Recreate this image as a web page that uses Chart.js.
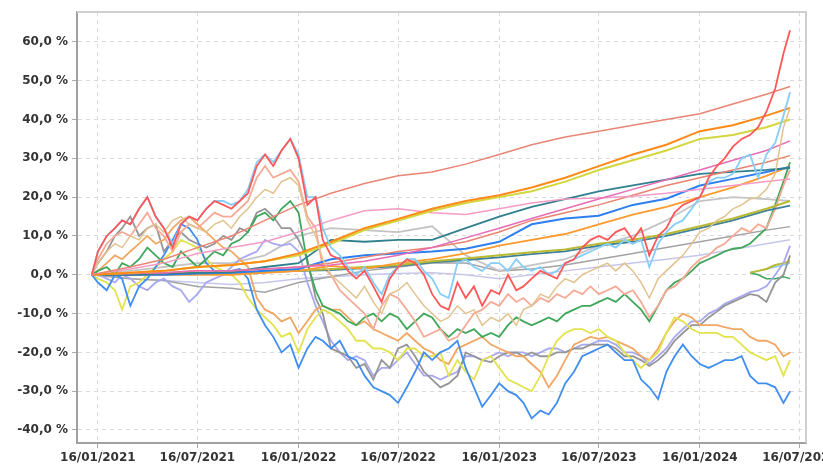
<!DOCTYPE html>
<html>
<head>
<meta charset="utf-8">
<script src="https://cdn.jsdelivr.net/npm/chart.js@4.4.1/dist/chart.umd.min.js"></script>
<style>
  html, body { margin: 0; padding: 0; background: #fff; overflow: hidden; }
  #wrap { position: relative; width: 860px; height: 471px; }
</style>
</head>
<body>
<div id="wrap"><canvas id="perfChart"></canvas></div>
<script>
// half-monthly dates for the volatile series
const dates = [
  "2021-01-05","2021-01-16","2021-02-01","2021-02-16","2021-03-01","2021-03-16","2021-04-01","2021-04-16","2021-05-01","2021-05-16",
  "2021-06-01","2021-06-16","2021-07-01","2021-07-16","2021-08-01","2021-08-16","2021-09-01","2021-09-16","2021-10-01","2021-10-16",
  "2021-11-01","2021-11-16","2021-12-01","2021-12-16","2022-01-01","2022-01-16","2022-02-01","2022-02-16","2022-03-01","2022-03-16",
  "2022-04-01","2022-04-16","2022-05-01","2022-05-16","2022-06-01","2022-06-16","2022-07-01","2022-07-16","2022-08-01","2022-08-16",
  "2022-09-01","2022-09-16","2022-10-01","2022-10-16","2022-11-01","2022-11-16","2022-12-01","2022-12-16","2023-01-01","2023-01-16",
  "2023-02-01","2023-02-16","2023-03-01","2023-03-16","2023-04-01","2023-04-16","2023-05-01","2023-05-16","2023-06-01","2023-06-16",
  "2023-07-01","2023-07-16","2023-08-01","2023-08-16","2023-09-01","2023-09-16","2023-10-01","2023-10-16","2023-11-01","2023-11-16",
  "2023-12-01","2023-12-16","2024-01-01","2024-01-16","2024-02-01","2024-02-16","2024-03-01","2024-03-16","2024-04-01","2024-04-16",
  "2024-05-01","2024-05-16","2024-06-01","2024-06-16","2024-06-28"
];
// two-monthly dates for the smooth series
const sparseDates = [
  "2021-01-05","2021-03-16","2021-05-16","2021-07-16","2021-09-16","2021-11-16","2022-01-16","2022-03-16","2022-05-16","2022-07-16","2022-09-16",
  "2022-11-16","2023-01-16","2023-03-16","2023-05-16","2023-07-16","2023-09-16","2023-11-16","2024-01-16","2024-03-16","2024-05-16","2024-06-28"
];
const shortDates = ["2024-04-16","2024-05-01","2024-05-16","2024-06-01","2024-06-16","2024-06-28"];

const xTickDates = ["2021-01-16","2021-07-16","2022-01-16","2022-07-16","2023-01-16","2023-07-16","2024-01-16","2024-07-16"];
const xTickLabels = ["16/01/2021","16/07/2021","16/01/2022","16/07/2022","16/01/2023","16/07/2023","16/01/2024","16/07/2024"];
const yTicks = [-40, -30, -20, -10, 0, 10, 20, 30, 40, 50, 60];

// volatile series (% performance)
const redSeries = [0,6,10,12,14,13,17,20,15,12, 7,13,15,14,17,19,18,17,19,21, 28,31,28,32,35,30,18,20,9,5,
  4,1,-1,1,-3,-7,-1,2,4,3, 0,-5,-8,-9,-2,-6,-3,-8,-4,-5, 0,-4,-3,-1,1,0,-1,3,4,7,
  9,10,9,11,12,9,12,5,10,12, 16,18,19,20,25,28,30,33,35,36, 38,42,48,57,63];
const skySeries = [0,6,10,12,14,13,17,20,15,12, 8,13,15,14,17,19,19,18,19,22, 29,31,29,32,35,31,20,20,12,7,
  5,2,0,2,-2,-5,0,2,4,4, 1,-1,-5,-6,3,4,2,1,3,3, 1,4,2,1,2,0,1,3,4,5,
  6,7,8,7,9,8,9,2,8,11, 13,14,17,20,24,25,25,26,30,31, 25,31,34,41,47];
const wheatSeries = [0,3,6,8,7,10,9,12,13,11, 14,15,13,12,11,13,14,12,15,17, 20,22,21,24,25,23,14,10,4,0,
  -2,-4,-6,-3,-7,-10,-5,-4,-2,-5, -8,-10,-12,-11,-8,-10,-9,-13,-11,-12, -10,-13,-9,-8,-5,-6,-3,-1,-2,0,
  1,2,3,1,3,1,-2,-6,-1,1, 3,5,8,11,12,14,15,17,18,19.5, 20,22,26,38,43];
const peachSeries = [0,4,8,10,11,10,13,16,12,10, 6,11,13,12,14,16,15,15,17,19, 25,28,25,26,27,24,15,12,2,0,
  -4,-6,-8,-10,-14,-8,-5,-6,-9,-12, -16,-15,-14,-17,-16,-13,-10,-9,-7,-8, -5,-7,-6,-8,-6,-7,-5,-6,-4,-5,
  -3,-5,-4,-3,-5,-4,-7,-11,-8,-4, -3,-1,2,4,5,7,8,10,12,11, 13,12,17,23,27];
const greenSeries = [0,1,2,0,3,2,4,7,5,3, 2,6,4,2,4,6,5,8,9,11, 15,16,14,17,19,16,3,-4,-8,-9,
  -10,-12,-13,-11,-10,-12,-10,-11,-14,-12, -10,-11,-14,-16,-14,-15,-14,-16,-15,-16, -13,-11,-12,-13,-12,-11,-12,-10,-9,-8,
  -8,-7,-6,-7,-5,-7,-9,-12,-8,-4, -2,-1,1,3,4,5,6,6.7,7,8, 10,12,18,24,29];
const blueSeries = [0,-2,-4,0,-1,-8,-3,-1,2,5, 9,13,12,9,3,1,0,1,1.5,-1, -9,-13,-16,-20,-18,-24,-19,-16,-17,-19,
  -17,-21,-22,-26,-29,-30,-31,-33,-29,-25, -20,-22,-20,-19,-17,-24,-29,-34,-31,-28, -30,-31,-33,-37,-35,-36,-33,-28,-25,-21,
  -20,-19,-18,-20,-22,-22,-27,-29,-32,-25, -21,-18,-21,-23,-24,-23,-22,-22,-21,-26, -28,-28,-29,-33,-30];
const yellowSeries = [0,-1,-2,-4,-9,-3,-2,0,2,4, 6,9,8,7,4,2,1,0,-2,-6, -9,-11,-13,-16,-15,-20,-14,-11,-9,-10,
  -12,-14,-17,-17,-19,-19,-20,-22,-19,-19, -21,-21,-20,-26,-22,-25,-27,-22,-21,-24, -27,-28,-29,-30,-26,-21,-17,-15,-14,-14,
  -15,-14,-16,-17,-20,-22,-24,-22,-20,-15, -11,-12,-14,-15,-15,-15,-16,-16,-18,-20, -21,-22,-21,-26,-22];
const sandySeries = [0,1,3,5,4,6,8,10,8,9, 12,14,15,13,11,9,7,6,4,2, -6,-9,-10,-12,-11,-15,-12,-9,-8,-9,
  -9,-11,-13,-12,-14,-15,-16,-17,-15,-17, -19,-20,-22,-23,-19,-18,-17,-16,-18,-19, -20,-21,-21,-23,-25,-29,-26,-22,-18,-17,
  -16,-16.5,-16,-17,-18,-19,-21,-22,-19,-15, -12,-10,-11,-13,-13,-13,-13.5,-14,-14,-16, -17,-17,-18,-21,-20];
const graySeries = [0,3,6,10,12,15,10,12,13,6, 9,11,9,8,7,8,10,9,12,11, 16,17,15,12,12,9,4,-6,-10,-19,
  -20,-21,-24,-23,-27,-22,-24,-19,-18,-21, -25,-27,-29,-28,-26,-20,-21,-22,-22.5,-21, -20,-20,-21,-20,-21,-21,-20,-20,-19,-19,
  -18,-18,-18,-19,-21,-21,-22,-23.5,-22,-20, -17,-15,-13,-13,-11,-9.5,-8,-7,-6,-5, -5.4,-7,-2,0,5];
const lavenderSeries = [0,0,-1,-2,0,-1,-3,-4,-2,-1, -3,-4,-7,-5,-2,-1,0,2,4,5, 6,9,8,7.5,8,6,-2,-8,-12,-17,
  -20,-22,-21,-22,-26,-24,-24,-22,-20,-23, -26,-26,-27,-26,-25,-21,-21,-22,-21,-20, -21,-20,-20,-21,-20,-19,-19,-20,-19,-18,
  -18,-17,-17,-18,-20,-20,-21,-23,-21,-19, -16,-14,-12,-12,-10,-9,-7.5,-6.5,-5.5,-4.5, -4,-3,0,3,7.5];

// smooth series (% performance, two-monthly)
const salmonTop   = [0,2,4,7,10,14,18,21,23.5,25.5,26.5,28.5,31,33.5,35.5,37,38.5,40,41.5,44,46.5,48.5];
const orangeTop   = [0,0.5,1,2,2.5,3.5,5.5,8.5,12,14.4,17,19,20.5,22.5,25,28,31,33.5,37,38.5,41,43];
const yellowTop   = [0,0.5,1,2,2.5,3.5,5,8,11.5,14,16.5,18.5,20,21.5,24,27,29.5,32,35,36,38,40];
const pinkRising  = [0,0.3,0.5,1,1,1.5,2,2.5,3.5,5,7,9.5,12,14.5,17,19.5,22,24.5,27,29.5,32,34.5];
const pinkFlat    = [0,1.5,3,5.5,7,8.5,11,14,16.5,17,16,15.5,17,18.5,19.5,19.8,20.2,21,22,23,24,24.7];
const salmonLow   = [0,0.3,0.5,1,1,1.5,2,3,4.5,6,7,8.5,11,14,16,18,20.5,23,25,27,29,30.7];
const tealLine    = [0,0,0.3,0.5,0.7,2,3,9,8.5,9,9,12,15,17.5,19.5,21.5,23,24.5,26,26.5,27,27.5];
const blueLine    = [0,0,0,0.3,0.5,1,1.5,4,5,5.5,6,6.7,8.5,13,14.5,15.2,18,19.6,23,24.7,26.5,27.8];
const orangeLow   = [0,0,0,0,0,0.5,1,2.3,1.5,3,4,5.5,7.5,9,10.5,13,15.5,17.5,20,22.5,25.5,28];
const oliveLine   = [0,0,0.3,0.5,0.5,0.8,1,1.5,2,2.5,3.5,4.2,5,5.8,6.5,8,9,10.5,12.5,14.5,17,19];
const tealLow     = [0,0,0.3,0.5,0.5,0.7,1,1.2,1.7,2.2,3.2,3.8,4.5,5.3,6,7.5,8.5,10,12,14,16.5,17.8];
const silverLine  = [0,1,2,3,3,5,10,12,11.5,11,12.5,5,1,2.5,4,7.5,10,14,19,20,19.5,19];
const grayLine    = [0,-1,-1.5,-3,-3.5,-4.5,-2,-0.5,1,2,3,3,1,1.5,2.5,4,5.5,7,8.5,10,11.5,12.4];
const lilacLine   = [0,-1,-1.5,-2,-2.5,-2,-1,-0.5,0,0.3,0.5,0,-1,0,1,2,3,4,5,6.5,8,9];

// funds starting in spring 2024
const oliveShort = [0.5,1,1.5,2.5,3,3.5];
const greenShort = [0.5,0,-1,-1,-0.5,-1];
const skyShort   = [0.5,1,1.5,2,2.5,3];

const DAY = 86400000;
const origin = Date.parse("2021-01-16");
const dayOf = d => (Date.parse(d) - origin) / DAY;
const pts = (ds, vals) => vals.map((v, i) => ({ x: dayOf(ds[i]), y: v }));

function line(label, ds, vals, color, width) {
  return {
    label: label,
    data: pts(ds, vals),
    borderColor: color,
    borderWidth: width || 1.5,
    pointRadius: 0,
    tension: 0,
    fill: false
  };
}

const datasets = [
  line('red', dates, redSeries, '#ff5757', 1.8),
  line('sky', dates, skySeries, '#86cdf8', 1.8),
  line('wheat', dates, wheatSeries, '#e3c28e'),
  line('salmonTop', sparseDates, salmonTop, '#ea8575'),
  line('orangeTop', sparseDates, orangeTop, '#ff8a17', 2),
  line('yellowTop', sparseDates, yellowTop, '#d3d63c', 2),
  line('pinkRising', sparseDates, pinkRising, '#e66cb4'),
  line('pinkFlat', sparseDates, pinkFlat, '#f59bc5'),
  line('salmonLow', sparseDates, salmonLow, '#e9836f'),
  line('teal', sparseDates, tealLine, '#31808e', 1.8),
  line('blue', sparseDates, blueLine, '#2e7ff0', 2),
  line('orangeLow', sparseDates, orangeLow, '#ff9a2e', 1.8),
  line('olive', sparseDates, oliveLine, '#b9ba33', 2),
  line('tealLow', sparseDates, tealLow, '#3f819a', 1.8),
  line('peach', dates, peachSeries, '#f6a995', 1.8),
  line('green', dates, greenSeries, '#3ea75a', 1.8),
  line('blueVol', dates, blueSeries, '#3f8ef0', 1.8),
  line('yellow', dates, yellowSeries, '#e2e34e', 1.8),
  line('sandy', dates, sandySeries, '#f1a762', 1.8),
  line('gray', dates, graySeries, '#959595', 1.8),
  line('lavender', dates, lavenderSeries, '#a8a8f2', 1.8),
  line('silver', sparseDates, silverLine, '#c4c4c4', 1.8),
  line('grayLine', sparseDates, grayLine, '#a3a3a3'),
  line('lilac', sparseDates, lilacLine, '#c6c6ea'),
  line('oliveShort', shortDates, oliveShort, '#b9ba33', 2),
  line('greenShort', shortDates, greenShort, '#3ea75a'),
  line('skyShort', shortDates, skyShort, '#86cdf8')
];

const boxPlugin = {
  id: 'box',
  beforeDraw(chart) {
    const { ctx, width, height } = chart;
    ctx.save();
    ctx.fillStyle = '#ffffff';
    ctx.fillRect(0, 0, width, height);
    ctx.restore();
  },
  afterDatasetsDraw(chart) {
    const { ctx, chartArea: a } = chart;
    ctx.save();
    ctx.strokeStyle = '#cfcfcf';
    ctx.lineWidth = 2;
    ctx.beginPath();
    ctx.moveTo(a.left, a.top);
    ctx.lineTo(a.right, a.top);
    ctx.lineTo(a.right, a.bottom);
    ctx.stroke();
    ctx.restore();
  }
};

const tickFont = { family: "'DejaVu Sans', sans-serif", size: 12, weight: 'bold' };

new Chart(document.getElementById('perfChart').getContext('2d'), {
  type: 'line',
  data: { datasets: datasets },
  options: {
    responsive: true,
    maintainAspectRatio: false,
    animation: false,
    layout: { padding: { top: 12, right: 54, bottom: 0, left: 0 } },
    plugins: { legend: { display: false }, tooltip: { enabled: false } },
    scales: {
      x: {
        type: 'linear',
        min: -38,
        max: 1288,
        afterBuildTicks: s => { s.ticks = xTickDates.map(d => ({ value: dayOf(d) })); },
        afterFit: s => { s.height = 28; },
        ticks: {
          autoSkip: false,
          maxRotation: 0,
          padding: 3,
          color: '#333',
          font: tickFont,
          callback: (v) => xTickLabels[xTickDates.findIndex(d => dayOf(d) === v)]
        },
        grid: { color: '#d9d9d9', lineWidth: 1, tickLength: 5, tickColor: '#a8a8a8' },
        border: { display: true, color: '#a0a0a0', width: 2, dash: [4, 4] }
      },
      y: {
        min: -43.35,
        max: 67.7,
        afterBuildTicks: s => { s.ticks = yTicks.map(v => ({ value: v })); },
        afterFit: s => { s.width = 77; },
        ticks: {
          padding: 4,
          color: '#333',
          font: tickFont,
          callback: v => v.toFixed(1).replace('.', ',') + ' %'
        },
        grid: { color: '#d9d9d9', lineWidth: 1, tickLength: 5, tickColor: '#a8a8a8' },
        border: { display: true, color: '#a0a0a0', width: 2, dash: [4, 4] }
      }
    }
  },
  plugins: [boxPlugin]
});
</script>
</body>
</html>
